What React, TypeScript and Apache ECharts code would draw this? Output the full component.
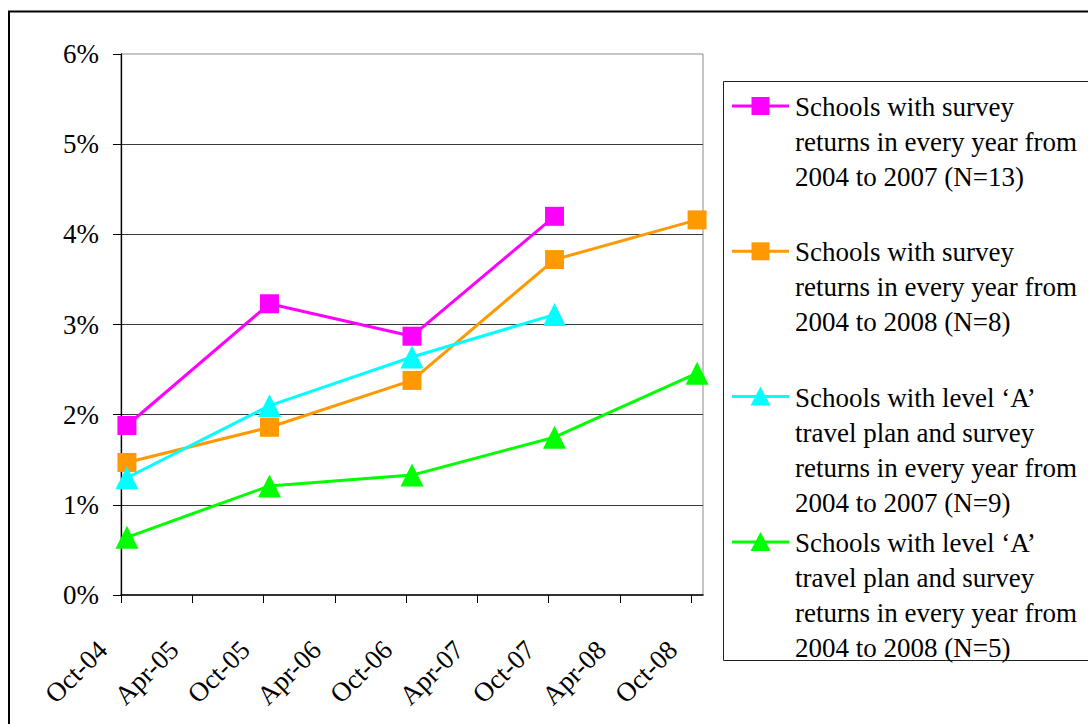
import React, { useEffect, useRef } from "react";
import * as echarts from "echarts";

// ---- data ----
const tickLabels = ["Oct-04", "Apr-05", "Oct-05", "Apr-06", "Oct-06", "Apr-07", "Oct-07", "Apr-08", "Oct-08"];
const surveyMonths = ["Oct-04", "Oct-05", "Oct-06", "Oct-07", "Oct-08"];
const yTickValues = [0, 1, 2, 3, 4, 5, 6];

const seriesNames = [
  "Schools with survey returns in every year from 2004 to 2007 (N=13)",
  "Schools with survey returns in every year from 2004 to 2008 (N=8)",
  "Schools with level ‘A’ travel plan and survey returns in every year from 2004 to 2007 (N=9)",
  "Schools with level ‘A’ travel plan and survey returns in every year from 2004 to 2008 (N=5)",
];
const legendLabels = [
  "Schools with survey\nreturns in every year from\n2004 to 2007 (N=13)",
  "Schools with survey\nreturns in every year from\n2004 to 2008 (N=8)",
  "Schools with level ‘A’\ntravel plan and survey\nreturns in every year from\n2004 to 2007 (N=9)",
  "Schools with level ‘A’\ntravel plan and survey\nreturns in every year from\n2004 to 2008 (N=5)",
];
const all2007 = [1.88, 3.23, 2.87, 4.2, null];
const all2008 = [1.47, 1.86, 2.38, 3.72, 4.16];
const levelA2007 = [1.3, 2.1, 2.64, 3.11, null];
const levelA2008 = [0.64, 1.21, 1.33, 1.75, 2.46];

const seriesValues = [all2007, all2008, levelA2007, levelA2008];
const seriesColors = ["#FF00FF", "#FF9900", "#00FFFF", "#00FF00"];
const seriesSymbols = ["rect", "rect", "triangle", "triangle"];

// ---- helpers ----
const MONTHS = ["Jan", "Feb", "Mar", "Apr", "May", "Jun", "Jul", "Aug", "Sep", "Oct", "Nov", "Dec"];
function monthIndex(label: string): number {
  const [m, y] = label.split("-");
  return (2000 + Number(y)) * 12 + MONTHS.indexOf(m);
}
const origin = monthIndex(tickLabels[0]);
const tickPositions = tickLabels.map((l) => monthIndex(l) - origin);
const axisEnd = monthIndex(tickLabels[tickLabels.length - 1]) - origin + 1;

const FONT = "'Liberation Serif', 'Times New Roman', serif";

export default function App() {
  const ref = useRef<HTMLDivElement>(null);

  useEffect(() => {
    if (!ref.current) return;
    const chart = echarts.init(ref.current, null, { renderer: "svg" });

    const series = seriesValues.map((vals, i) => ({
      name: seriesNames[i],
      type: "line",
      data: surveyMonths
        .map((m, j) => [monthIndex(m) - origin + 0.5, vals[j]])
        .filter((p) => p[1] !== null),
      symbol: seriesSymbols[i],
      symbolSize: seriesSymbols[i] === "rect" ? 19 : 23,
      showSymbol: true,
      lineStyle: { color: seriesColors[i], width: 3 },
      itemStyle: { color: seriesColors[i] },
      z: 3 + i,
    }));

    const legendTop = 107;
    const legendStep = 145.3;
    const legendGraphics: any[] = [];
    legendLabels.forEach((txt, i) => {
      const cy = legendTop + i * legendStep - 1;
      legendGraphics.push({
        type: "line",
        silent: true,
        z: 20,
        shape: { x1: 732, y1: cy, x2: 789, y2: cy },
        style: { stroke: seriesColors[i], lineWidth: 3 },
      });
      if (seriesSymbols[i] === "rect") {
        legendGraphics.push({
          type: "rect",
          silent: true,
          z: 21,
          shape: { x: 760.5 - 9, y: cy - 9, width: 18, height: 18 },
          style: { fill: seriesColors[i] },
        });
      } else {
        legendGraphics.push({
          type: "polygon",
          silent: true,
          z: 21,
          shape: {
            points: [
              [760.5, cy - 10],
              [770.5, cy + 9],
              [750.5, cy + 9],
            ],
          },
          style: { fill: seriesColors[i] },
        });
      }
      legendGraphics.push({
        type: "text",
        silent: true,
        z: 21,
        x: 795,
        y: legendTop + i * legendStep - 17.5,
        style: {
          text: txt,
          font: "27px " + FONT,
          fontFamily: FONT,
          fontSize: 27,
          lineHeight: 35,
          fill: "#000",
          verticalAlign: "top",
          align: "left",
        },
      });
    });

    chart.setOption({
      animation: false,
      backgroundColor: "#fff",
      textStyle: { fontFamily: FONT },
      grid: {
        left: 121,
        right: 1088 - 703,
        top: 54,
        bottom: 724 - 595,
        containLabel: false,
        outerBoundsMode: "none",
        show: true,
        borderColor: "#8c8c8c",
        borderWidth: 1,
        backgroundColor: "transparent",
      },
      xAxis: {
        type: "value",
        min: 0,
        max: axisEnd,
        interval: 6,
        axisLine: { show: true, onZero: false, lineStyle: { color: "#000", width: 1.5 } },
        axisTick: {
          show: true,
          length: 8,
          lineStyle: { color: "#000", width: 1 },
          customValues: tickPositions,
        },
        axisLabel: {
          show: true,
          rotate: 45,
          margin: 32,
          padding: [0, 26, 0, 0],
          fontFamily: FONT,
          fontSize: 27,
          color: "#000",
          customValues: tickPositions,
          formatter: (v: number) => {
            const idx = tickPositions.indexOf(Math.round(v));
            return idx >= 0 && Math.abs(v - Math.round(v)) < 1e-6 ? tickLabels[idx] : "";
          },
        },
        splitLine: { show: false },
      },
      yAxis: {
        type: "value",
        min: yTickValues[0],
        max: yTickValues[yTickValues.length - 1],
        interval: 1,
        axisLine: { show: true, onZero: false, lineStyle: { color: "#000", width: 1.3 } },
        axisTick: { show: true, length: 8, lineStyle: { color: "#000", width: 1 } },
        axisLabel: {
          margin: 22,
          fontFamily: FONT,
          fontSize: 27,
          color: "#000",
          formatter: (v: number) => `${v}%`,
        },
        splitLine: {
          show: true,
          showMinLine: false,
          showMaxLine: false,
          lineStyle: { color: "#3a3a3a", width: 1 },
        },
      },
      graphic: [
        {
          type: "rect",
          silent: true,
          z: -10,
          shape: { x: 9, y: 11.5, width: 1200, height: 800 },
          style: { fill: "none", stroke: "#000", lineWidth: 2 },
        },
        {
          type: "rect",
          silent: true,
          z: 10,
          shape: { x: 723.5, y: 81.5, width: 500, height: 579 },
          style: { fill: "#fff", stroke: "#222", lineWidth: 1 },
        },
        ...legendGraphics,
      ],
      series,
    });

    return () => chart.dispose();
  }, []);

  return (
    <div
      ref={ref}
      style={{ position: "fixed", left: 0, top: 0, width: 1088, height: 724, background: "#fff" }}
    />
  );
}
